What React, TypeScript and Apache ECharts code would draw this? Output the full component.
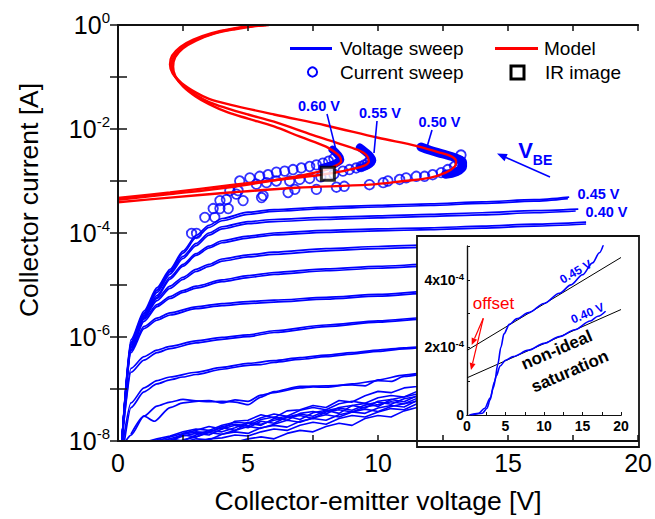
import React, { useEffect, useRef } from 'react';
import * as echarts from 'echarts';

const FONT = 'Arial, "Liberation Sans", Helvetica, sans-serif';
const BLUE = '#0000ff';
const RED = '#ff0000';

// ---------- main plot: voltage sweeps (pairs of forward / reverse traces) ----------
const VS_045_A = [[0.15,1e-8],[0.5,8.9e-7],[1,3.16e-6],[1.5,8.9e-6],[2,2.0e-5],[2.5,4.5e-5],[3,8.9e-5],[3.5,1.41e-4],[4,1.9e-4],[5,2.51e-4],[6,2.82e-4],[8,3.16e-4],[10,3.4e-4],[12,3.63e-4],[14,3.98e-4],[16,4.37e-4],[17.35,4.9e-4]];
const VS_045_B = [[0.15,1e-8],[0.5,8.0e-7],[1,2.9e-6],[1.5,8.1e-6],[2,1.85e-5],[2.5,4.1e-5],[3,8.1e-5],[3.5,1.28e-4],[4,1.72e-4],[5,2.29e-4],[6,2.6e-4],[8,2.95e-4],[10,3.16e-4],[12,3.38e-4],[14,3.7e-4],[16,4.1e-4],[17.3,4.6e-4]];
const VS_040_A = [[0.15,1e-8],[0.5,7.9e-7],[1,2.8e-6],[1.5,7.9e-6],[2,1.78e-5],[2.5,3.55e-5],[3,6.3e-5],[3.5,1.0e-4],[4,1.32e-4],[5,1.66e-4],[6,1.82e-4],[8,2.0e-4],[10,2.14e-4],[12,2.29e-4],[14,2.45e-4],[16,2.69e-4],[17.7,2.88e-4]];
const VS_040_B = [[0.15,1e-8],[0.5,7.2e-7],[1,2.55e-6],[1.5,7.2e-6],[2,1.62e-5],[2.5,3.23e-5],[3,5.7e-5],[3.5,9.1e-5],[4,1.2e-4],[5,1.51e-4],[6,1.66e-4],[8,1.82e-4],[10,1.95e-4],[12,2.08e-4],[14,2.23e-4],[16,2.45e-4],[17.6,2.65e-4]];
const VS_L3_A = [[0.15,1e-8],[0.5,7.1e-7],[1,2.5e-6],[1.5,6.3e-6],[2,1.41e-5],[2.5,2.5e-5],[3,4.0e-5],[3.5,5.6e-5],[4,7.1e-5],[5,8.7e-5],[6,1.0e-4],[8,1.12e-4],[10,1.2e-4],[12,1.26e-4],[14,1.35e-4],[16,1.48e-4],[18,1.62e-4]];
const VS_L3_B = [[0.15,1e-8],[0.5,6.5e-7],[1,2.3e-6],[1.5,5.8e-6],[2,1.3e-5],[2.5,2.3e-5],[3,3.7e-5],[3.5,5.15e-5],[4,6.5e-5],[5,8.0e-5],[6,9.2e-5],[8,1.03e-4],[10,1.1e-4],[12,1.16e-4],[14,1.24e-4],[16,1.36e-4],[18,1.49e-4]];
const VS_L4_A = [[0.15,1e-8],[0.5,7.0e-7],[1,2.6e-6],[1.5,5.5e-6],[2,9.5e-6],[2.5,1.41e-5],[3,2.0e-5],[3.5,2.5e-5],[4,3.16e-5],[5,3.8e-5],[6,4.27e-5],[8,5.0e-5],[10,5.5e-5],[12,5.9e-5],[14,6.3e-5],[16,6.76e-5],[18,7.24e-5]];
const VS_L4_B = [[0.15,1e-8],[0.5,6.3e-7],[1,2.35e-6],[1.5,5.0e-6],[2,8.6e-6],[2.5,1.28e-5],[3,1.82e-5],[3.5,2.28e-5],[4,2.88e-5],[5,3.46e-5],[6,3.89e-5],[8,4.55e-5],[10,5.0e-5],[12,5.37e-5],[14,5.73e-5],[16,6.15e-5],[18,6.6e-5]];
const VS_L5_A = [[0.15,1e-8],[0.5,6.2e-7],[1,2.2e-6],[1.5,4.2e-6],[2,6.0e-6],[2.5,7.8e-6],[3,9.5e-6],[4,1.26e-5],[5,1.51e-5],[6,1.74e-5],[8,2.04e-5],[10,2.29e-5],[12,2.51e-5],[14,2.69e-5],[16,2.88e-5],[18,3.09e-5]];
const VS_L5_B = [[0.15,1e-8],[0.5,5.7e-7],[1,2.0e-6],[1.5,3.85e-6],[2,5.5e-6],[2.5,7.2e-6],[3,8.7e-6],[4,1.16e-5],[5,1.39e-5],[6,1.6e-5],[8,1.88e-5],[10,2.1e-5],[12,2.31e-5],[14,2.47e-5],[16,2.65e-5],[18,2.84e-5]];
const VS_L6_A = [[0.15,1e-8],[0.5,5.5e-7],[1,1.6e-6],[1.5,2.3e-6],[2,2.9e-6],[3,3.8e-6],[4,4.4e-6],[5,4.8e-6],[6,5.1e-6],[8,5.8e-6],[10,6.6e-6],[12,7.6e-6],[14,8.1e-6],[16,8.7e-6],[18,9.3e-6]];
const VS_L6_B = [[0.15,1e-8],[0.5,5.0e-7],[1,1.45e-6],[1.5,2.1e-6],[2,2.65e-6],[3,3.5e-6],[4,4.0e-6],[5,4.4e-6],[6,4.7e-6],[8,5.35e-6],[10,6.1e-6],[12,7.0e-6],[14,7.5e-6],[16,8.0e-6],[18,8.6e-6]];
const VS_L7_A = [[0.15,1e-8],[0.5,2.5e-7],[1,4.2e-7],[1.5,5.6e-7],[2,6.6e-7],[3,8.4e-7],[4,9.8e-7],[5,1.1e-6],[6,1.32e-6],[8,1.7e-6],[10,2.05e-6],[12,2.4e-6],[14,2.7e-6],[16,2.95e-6],[18,3.16e-6]];
const VS_L7_B = [[0.15,1e-8],[0.5,2.1e-7],[1,3.6e-7],[1.5,5.0e-7],[2,6.0e-7],[3,7.7e-7],[4,9.0e-7],[5,1.02e-6],[6,1.22e-6],[8,1.58e-6],[10,1.93e-6],[12,2.25e-6],[14,2.55e-6],[16,2.8e-6],[18,3.0e-6]];
const VS_L8_A = [[0.2,1e-8],[0.5,5.4e-8],[1,1.05e-7],[1.5,1.45e-7],[2,1.7e-7],[3,2.1e-7],[4,2.6e-7],[5,3.1e-7],[6,3.5e-7],[7,4.0e-7],[8,4.5e-7],[9,5.0e-7],[10,5.6e-7],[11,6.2e-7],[12,6.6e-7],[14,7.6e-7],[16,8.5e-7],[18,9.5e-7]];
const VS_L8_B = [[0.25,1e-8],[0.5,4.4e-8],[1,8.8e-8],[1.5,1.25e-7],[2,1.5e-7],[2.5,1.7e-7],[3,1.9e-7],[4,2.4e-7],[5,2.85e-7],[5.5,2.95e-7],[6,3.25e-7],[7,3.7e-7],[8,4.2e-7],[9,4.7e-7],[10,5.3e-7],[11,5.9e-7],[12,6.4e-7],[14,7.3e-7],[16,8.2e-7],[18,9.1e-7]];
const VS_L9_A = [[0.3,1e-8],[0.5,1.3e-8],[1,3.0e-8],[1.5,4.7e-8],[2,5.6e-8],[2.5,6.3e-8],[3,5.9e-8],[3.5,5.7e-8],[4,5.8e-8],[4.5,5.6e-8],[5,5.0e-8],[5.5,7.0e-8],[6,8.9e-8],[7,1.12e-7],[8,1.15e-7],[9,1.2e-7],[9.5,1.15e-7],[10,1.5e-7],[11,1.85e-7],[12,2.1e-7],[14,2.4e-7],[16,2.7e-7],[18,3.0e-7]];
const VS_L9_B = [[0.5,1.35e-8],[1,3.0e-8],[1.4,2.4e-8],[2,4.4e-8],[2.5,5.4e-8],[3,5.8e-8],[3.5,6.0e-8],[4,5.4e-8],[4.5,6.2e-8],[5,5.8e-8],[5.5,7.6e-8],[6,8.5e-8],[7,1.05e-7],[7.5,1.1e-7],[8,1.08e-7],[9,1.25e-7],[10,1.45e-7],[10.5,1.4e-7],[11,1.75e-7],[12,2.0e-7],[14,2.3e-7],[16,2.6e-7],[18,2.9e-7]];

// noise-floor traces (low base-emitter voltages)
const NOISE_X = [1,1.5,2,2.5,3,3.5,4,4.5,5,5.5,6,6.5,7,7.5,8,8.5,9,9.5,10,10.5,11,11.5,12];
const NOISE_1 = [0.8e-8,1.0e-8,1.2e-8,1.4e-8,1.6e-8,1.9e-8,1.7e-8,2.4e-8,2.5e-8,3.2e-8,2.8e-8,3.8e-8,4.0e-8,4.8e-8,4.4e-8,6.0e-8,5.6e-8,7.4e-8,9.0e-8,8.5e-8,1.05e-7,1.12e-7,1.2e-7];
const NOISE_2 = [0.9e-8,0.95e-8,1.1e-8,1.3e-8,1.2e-8,1.5e-8,1.8e-8,1.6e-8,2.2e-8,2.0e-8,2.7e-8,3.0e-8,2.6e-8,3.5e-8,3.9e-8,3.4e-8,4.8e-8,5.3e-8,4.6e-8,6.3e-8,7.0e-8,8.0e-8,8.6e-8];
const NOISE_3 = [0.7e-8,0.85e-8,1.0e-8,1.25e-8,1.4e-8,1.3e-8,1.7e-8,2.0e-8,1.8e-8,2.4e-8,2.2e-8,2.9e-8,3.3e-8,3.0e-8,3.8e-8,4.3e-8,3.9e-8,4.9e-8,5.6e-8,5.1e-8,6.5e-8,7.2e-8,7.8e-8];
const NOISE_4 = [0.6e-8,0.8e-8,0.9e-8,1.05e-8,1.2e-8,1.45e-8,1.35e-8,1.6e-8,1.9e-8,1.75e-8,2.1e-8,2.5e-8,2.3e-8,2.8e-8,3.2e-8,2.9e-8,3.6e-8,4.1e-8,3.7e-8,4.6e-8,5.2e-8,5.8e-8,6.4e-8];
const NOISE_5 = [0.85e-8,1.05e-8,1.0e-8,1.35e-8,1.5e-8,1.45e-8,1.9e-8,2.1e-8,1.95e-8,2.6e-8,2.9e-8,2.5e-8,3.4e-8,3.7e-8,3.3e-8,4.4e-8,4.8e-8,4.3e-8,5.8e-8,6.3e-8,5.7e-8,7.4e-8,8.0e-8];
const NOISE_6 = [0.75e-8,0.9e-8,1.1e-8,1.0e-8,1.3e-8,1.6e-8,1.5e-8,1.8e-8,2.3e-8,2.1e-8,2.5e-8,2.8e-8,3.1e-8,2.7e-8,3.6e-8,4.0e-8,3.6e-8,4.5e-8,5.0e-8,5.7e-8,5.2e-8,6.6e-8,7.2e-8];
const NOISE_7 = [0.5e-8,0.6e-8,0.7e-8,0.75e-8,0.85e-8,0.9e-8,1.0e-8,0.95e-8,1.1e-8,1.2e-8,1.1e-8,1.4e-8,1.6e-8,1.5e-8,1.9e-8,2.2e-8,2.0e-8,2.7e-8,3.1e-8,2.9e-8,3.8e-8,4.4e-8,5.0e-8];
const NOISE_8 = [0.55e-8,0.65e-8,0.75e-8,0.9e-8,0.95e-8,1.1e-8,1.15e-8,1.3e-8,1.25e-8,1.5e-8,1.7e-8,1.6e-8,2.0e-8,2.3e-8,2.1e-8,2.7e-8,3.1e-8,2.9e-8,3.6e-8,4.2e-8,4.0e-8,5.2e-8,5.8e-8];
const NOISE_9 = [0.6e-8,0.7e-8,0.85e-8,0.95e-8,1.1e-8,1.05e-8,1.35e-8,1.5e-8,1.4e-8,1.8e-8,2.0e-8,1.85e-8,2.4e-8,2.7e-8,2.5e-8,3.2e-8,3.6e-8,3.4e-8,4.3e-8,4.8e-8,4.5e-8,6.0e-8,6.6e-8];
const NOISE_10 = [0.95e-8,1.1e-8,1.25e-8,1.5e-8,1.7e-8,1.6e-8,2.0e-8,2.3e-8,2.2e-8,2.8e-8,3.3e-8,3.0e-8,3.9e-8,4.4e-8,4.0e-8,5.2e-8,5.8e-8,5.3e-8,6.8e-8,7.5e-8,7.0e-8,9.0e-8,9.8e-8];
const NOISE_ROWS = [NOISE_1, NOISE_2, NOISE_3, NOISE_4, NOISE_5, NOISE_6, NOISE_7, NOISE_8, NOISE_9, NOISE_10];

// voltage-sweep traces at the snapback "noses"
const NOSE_060 = [[7.85,1.78e-3],[8.2,2.0e-3],[8.45,2.3e-3],[8.55,2.6e-3],[8.45,3.2e-3],[8.25,4.0e-3]];
const NOSE_055 = [[9.3,1.8e-3],[9.6,2.0e-3],[9.78,2.5e-3],[9.7,3.0e-3],[9.5,3.7e-3],[9.3,4.4e-3]];
const NOSE_050 = [[12.6,1.35e-3],[13.0,1.5e-3],[13.25,1.9e-3],[13.25,2.3e-3],[13.0,2.75e-3],[12.5,3.3e-3],[12.0,3.9e-3],[11.65,4.5e-3]];

// current sweeps (open circles)
const CS_060 = [[2.83,9.8e-5],[3.34,2.0e-4],[3.66,2.95e-4],[3.92,4.2e-4],[4.3,6.5e-4],[4.68,1.0e-3],[5.07,1.15e-3],[5.45,1.23e-3],[5.77,1.32e-3],[6.09,1.48e-3],[6.41,1.55e-3],[6.73,1.66e-3],[7.05,1.78e-3],[7.37,1.9e-3],[7.63,2.04e-3],[7.88,2.2e-3],[8.1,2.4e-3],[8.3,2.7e-3]];
const CS_055 = [[3.02,9.8e-5],[3.72,2.0e-4],[3.92,2.95e-4],[4.17,4.4e-4],[4.62,6.5e-4],[5.32,8.7e-4],[5.71,9.3e-4],[6.09,1.0e-3],[6.6,1.0e-3],[6.99,1.07e-3],[7.37,1.12e-3],[7.8,1.2e-3],[8.3,1.35e-3],[8.65,1.55e-3],[8.9,1.66e-3],[9.16,1.78e-3],[9.35,1.9e-3],[9.48,2.04e-3],[9.61,2.24e-3],[9.7,2.5e-3]];
const CS_050 = [[4.24,2.95e-4],[4.55,5.6e-4],[4.81,4.2e-4],[5.52,4.8e-4],[5.58,5.25e-4],[6.54,6.0e-4],[6.8,6.9e-4],[7.63,6.9e-4],[8.4,7.6e-4],[8.7,7.9e-4],[9.67,8.5e-4],[10.2,9.3e-4],[10.38,1.0e-3],[10.83,1.07e-3],[11.08,1.15e-3],[11.47,1.23e-3],[11.79,1.23e-3],[12.1,1.32e-3],[12.43,1.45e-3],[12.68,1.66e-3],[12.94,1.9e-3],[13.13,2.4e-3],[13.19,3.16e-3]];

// model (red)
const MODEL_060 = [[0,4.37e-4],[2,5.6e-4],[4.3,7.6e-4],[6.2,1.07e-3],[7.3,1.35e-3],[8.0,1.66e-3],[8.4,2.0e-3],[8.58,2.4e-3],[8.52,3.0e-3],[8.3,3.7e-3],[8.0,4.57e-3],[7,7.1e-3],[6,1.12e-2],[5,1.58e-2],[4.2,2.1e-2],[3.5,3.0e-2],[3.0,4.17e-2],[2.5,6.6e-2],[2.2,0.105],[2.12,0.158],[2.2,0.24],[2.5,0.355],[3.0,0.5],[3.7,0.68],[4.5,0.83],[5.3,0.955],[5.8,1.0]];
const MODEL_055 = [[0,4.7e-4],[2,6.0e-4],[4.3,8.3e-4],[6.86,1.15e-3],[8.2,1.41e-3],[8.9,1.66e-3],[9.45,1.95e-3],[9.65,2.4e-3],[9.55,3.16e-3],[9.2,4.0e-3],[8.5,5.25e-3],[7.5,7.6e-3],[6,1.38e-2],[5,1.9e-2],[4.2,2.5e-2],[3.5,3.3e-2],[3.0,4.5e-2],[2.5,6.9e-2],[2.15,0.11],[2.06,0.166],[2.14,0.245],[2.45,0.363],[2.95,0.513],[3.65,0.684],[4.45,0.84],[5.25,0.96],[5.7,1.0]];
const MODEL_050 = [[0,3.9e-4],[2,4.8e-4],[4.3,6.0e-4],[6.86,7.4e-4],[9.67,8.5e-4],[11.0,1.0e-3],[11.98,1.15e-3],[12.6,1.45e-3],[12.95,1.9e-3],[13.0,2.4e-3],[12.8,3.0e-3],[12.3,3.6e-3],[11.5,4.7e-3],[10,6.8e-3],[8,1.17e-2],[6,1.9e-2],[4.3,2.95e-2],[3.5,3.8e-2],[3.0,5.0e-2],[2.45,7.6e-2],[2.1,0.117],[2.0,0.174],[2.08,0.257],[2.4,0.38],[2.9,0.525],[3.6,0.7],[4.4,0.85],[5.2,0.966],[5.6,1.0]];

const IR_IMAGE = [[8.07,1.38e-3]];

// ---------- inset (linear) ----------
const INSET_045 = [[0.3,0],[1.5,5e-6],[2.3,2e-5],[3.0,5e-5],[3.6,1.0e-4],[4.0,1.5e-4],[4.4,2.0e-4],[4.8,2.4e-4],[5.5,2.68e-4],[6.5,2.85e-4],[8,3.03e-4],[10,3.3e-4],[12,3.6e-4],[13.5,3.85e-4],[15,4.15e-4],[16.3,4.5e-4],[17.2,4.8e-4],[17.8,5.1e-4]];
const INSET_040 = [[0.6,0],[2.0,5e-6],[2.6,2e-5],[3.0,4.5e-5],[3.4,8e-5],[3.8,1.15e-4],[4.3,1.45e-4],[5,1.62e-4],[6,1.73e-4],[8,1.92e-4],[10,2.12e-4],[12,2.32e-4],[14,2.52e-4],[16,2.78e-4],[17,2.92e-4],[18,3.07e-4]];
const INSET_FIT_HI = [[0,1.91e-4],[20,4.66e-4]];
const INSET_FIT_LO = [[0,1.10e-4],[20,3.12e-4]];

const X_MAIN_TICKS = [0, 5, 10, 15, 20];
const INSET_Y_LABELS = ['0', '2x10', '4x10'];

const VS_PAIRS = [VS_045_A, VS_045_B, VS_040_A, VS_040_B, VS_L3_A, VS_L3_B, VS_L4_A, VS_L4_B, VS_L5_A, VS_L5_B, VS_L6_A, VS_L6_B, VS_L7_A, VS_L7_B, VS_L8_A, VS_L8_B, VS_L9_A, VS_L9_B];

function buildOption() {
  const series: any[] = [];
  VS_PAIRS.forEach((d) => {
    series.push({
      type: 'line', name: 'Voltage sweep', xAxisIndex: 0, yAxisIndex: 0, data: d,
      showSymbol: false, smooth: 0.25, smoothMonotone: 'x',
      lineStyle: { color: BLUE, width: 1.7 }, z: 2, silent: true,
    });
  });
  NOISE_ROWS.forEach((row) => {
    series.push({
      type: 'line', name: 'Voltage sweep', xAxisIndex: 0, yAxisIndex: 0,
      data: NOISE_X.map((x, i) => [x, row[i]]),
      showSymbol: false, lineStyle: { color: BLUE, width: 1.6 }, z: 2, silent: true,
    });
  });
  [CS_060, CS_055, CS_050].forEach((d) => {
    series.push({
      type: 'scatter', name: 'Current sweep', xAxisIndex: 0, yAxisIndex: 0, data: d,
      symbol: 'circle', symbolSize: 9.5,
      itemStyle: { color: 'rgba(255,255,255,0)', borderColor: BLUE, borderWidth: 1.8 }, z: 3, silent: true,
    });
  });
  [NOSE_060, NOSE_055, NOSE_050].forEach((d, i) => {
    series.push({
      type: 'line', name: 'Voltage sweep', xAxisIndex: 0, yAxisIndex: 0, data: d,
      showSymbol: false, smooth: 0.4,
      lineStyle: { color: BLUE, width: i === 2 ? 9 : 8, cap: 'round', join: 'round' }, z: 3, silent: true,
    });
  });
  [MODEL_060, MODEL_055, MODEL_050].forEach((d) => {
    series.push({
      type: 'line', name: 'Model', xAxisIndex: 0, yAxisIndex: 0, data: d,
      showSymbol: false, smooth: 0.35,
      lineStyle: { color: RED, width: 2.4 }, z: 4, silent: true,
    });
  });
  series.push({
    type: 'scatter', name: 'IR image', xAxisIndex: 0, yAxisIndex: 0, data: IR_IMAGE,
    symbol: 'rect', symbolSize: 13,
    itemStyle: { color: '#fff', borderColor: '#000', borderWidth: 3 }, z: 5, silent: true,
  });
  // inset
  series.push({
    type: 'line', xAxisIndex: 2, yAxisIndex: 2, data: INSET_FIT_HI, showSymbol: false,
    lineStyle: { color: '#000', width: 1 }, z: 15, silent: true,
  });
  series.push({
    type: 'line', xAxisIndex: 2, yAxisIndex: 2, data: INSET_FIT_LO, showSymbol: false,
    lineStyle: { color: '#000', width: 1 }, z: 15, silent: true,
  });
  [INSET_045, INSET_040].forEach((d) => {
    series.push({
      type: 'line', xAxisIndex: 2, yAxisIndex: 2, data: d, showSymbol: false,
      smooth: 0.3, smoothMonotone: 'x',
      lineStyle: { color: BLUE, width: 1.6 }, z: 16, silent: true,
    });
  });

  const axisLineMain = { show: true, lineStyle: { color: '#111', width: 2 } };
  const axisLineInset = { show: true, lineStyle: { color: '#111', width: 1.2 } };

  const txt = (text: string, x: number, y: number, font: string, fill: string, rotation = 0, align = 'center') => ({
    type: 'text', x, y, rotation, z: 40,
    style: { text, fill, font, align, verticalAlign: 'middle' },
  });
  const seg = (x1: number, y1: number, x2: number, y2: number, stroke: string, lineWidth: number) => ({
    type: 'line', z: 40, shape: { x1, y1, x2, y2 }, style: { stroke, lineWidth },
  });
  const tri = (pts: number[][], fill: string) => ({
    type: 'polygon', z: 40, shape: { points: pts }, style: { fill },
  });

  const graphic: any[] = [
    { type: 'rect', z: 10, shape: { x: 417, y: 236, width: 222, height: 211 }, style: { fill: '#fff', stroke: '#111', lineWidth: 1.8 } },
    // legend
    seg(290, 48.5, 332, 48.5, BLUE, 3),
    txt('Voltage sweep', 340, 48, `19px ${FONT}`, '#000', 0, 'left'),
    { type: 'circle', z: 40, shape: { cx: 312.5, cy: 72, r: 4.6 }, style: { fill: 'none', stroke: BLUE, lineWidth: 2 } },
    txt('Current sweep', 340, 72, `19px ${FONT}`, '#000', 0, 'left'),
    seg(495, 48.5, 538, 48.5, RED, 3),
    txt('Model', 544, 48, `19px ${FONT}`, '#000', 0, 'left'),
    { type: 'rect', z: 40, shape: { x: 511, y: 66, width: 13, height: 13 }, style: { fill: '#fff', stroke: '#000', lineWidth: 3 } },
    txt('IR image', 545, 72, `19px ${FONT}`, '#000', 0, 'left'),
    // V_BE labels
    txt('0.60 V', 319, 106, `bold 14.5px ${FONT}`, BLUE),
    seg(327, 114, 336, 150, BLUE, 1.6),
    txt('0.55 V', 380, 113, `bold 14.5px ${FONT}`, BLUE),
    seg(377, 121, 374, 153, BLUE, 1.6),
    txt('0.50 V', 439.5, 122, `bold 14.5px ${FONT}`, BLUE),
    seg(432, 130, 427, 147, BLUE, 1.6),
    txt('0.45 V', 598.5, 194, `bold 14.5px ${FONT}`, BLUE),
    txt('0.40 V', 606.5, 212, `bold 14.5px ${FONT}`, BLUE),
    // V_BE arrow
    seg(550, 177, 506, 157.6, BLUE, 1.6),
    tri([[497, 153.5], [507.7, 153.9], [504.5, 161.3]], BLUE),
    txt('V', 525.5, 150, `bold 22px ${FONT}`, BLUE),
    txt('BE', 542.5, 160, `bold 14px ${FONT}`, BLUE),
    // inset annotations
    txt('offset', 493.5, 303.5, `17px ${FONT}`, RED),
    seg(483.3, 318.3, 474.5, 338.6, RED, 1.2),
    tri([[471.7, 345], [477.2, 339.8], [471.7, 337.4]], RED),
    seg(483.3, 318.3, 472.6, 363.2, RED, 1.2),
    tri([[471, 370], [475.5, 363.9], [469.7, 362.5]], RED),
    txt('non-ideal', 556.7, 350, `bold 17px ${FONT}`, '#000', 0.405),
    txt('saturation', 569.8, 371.5, `bold 17px ${FONT}`, '#000', 0.408),
    txt('0.45 V', 575.8, 271.7, `bold 12px ${FONT}`, BLUE, 0.53),
    txt('0.40 V', 587.5, 313.3, `bold 12px ${FONT}`, BLUE, 0.4),
  ];

  return {
    animation: false,
    backgroundColor: '#fff',
    grid: [
      { left: 118, top: 25, width: 521, height: 422 },
      { left: 467, top: 246, width: 154, height: 169 },
    ],
    xAxis: [
      {
        gridIndex: 0, type: 'value', min: 0, max: 20, interval: 2.5, z: 20,
        axisLine: axisLineMain,
        axisTick: { show: true, inside: true, length: 6, lineStyle: { color: '#111', width: 1.5 } },
        axisLabel: {
          margin: 9, fontSize: 25, color: '#000', fontFamily: FONT,
          formatter: (v: number) => (X_MAIN_TICKS.includes(v) ? String(v) : ''),
        },
        splitLine: { show: false },
        name: 'Collector-emitter voltage [V]', nameLocation: 'middle', nameGap: 46,
        nameTextStyle: { fontSize: 26.5, color: '#000', fontFamily: FONT },
      },
      {
        gridIndex: 0, type: 'value', position: 'top', min: 0, max: 20, interval: 2.5, z: 20,
        axisLine: axisLineMain,
        axisTick: { show: true, inside: true, length: 6, lineStyle: { color: '#111', width: 1.5 } },
        axisLabel: { show: false }, splitLine: { show: false },
      },
      {
        gridIndex: 1, type: 'value', min: 0, max: 20, interval: 2.5, z: 12,
        axisLine: axisLineInset,
        axisTick: { show: true, inside: true, length: 3, lineStyle: { color: '#111', width: 1 } },
        axisLabel: {
          margin: 4, fontSize: 14, fontWeight: 'bold', color: '#000', fontFamily: FONT,
          formatter: (v: number) => (v % 5 === 0 ? String(v) : ''),
        },
        splitLine: { show: false },
      },
      {
        gridIndex: 1, type: 'value', position: 'top', min: 0, max: 20, interval: 2.5, z: 12,
        axisLine: axisLineInset, axisTick: { show: false },
        axisLabel: { show: false }, splitLine: { show: false },
      },
    ],
    yAxis: [
      {
        gridIndex: 0, type: 'log', logBase: 10, min: 1e-8, max: 1, splitNumber: 8, z: 20,
        axisLine: axisLineMain,
        axisTick: { show: true, inside: true, length: 9, lineStyle: { color: '#111', width: 1.5 } },
        minorTick: { show: false },
        axisLabel: {
          margin: 8, color: '#000', fontFamily: FONT,
          formatter: (v: number) => {
            const e = Math.round(Math.log10(v));
            return e % 2 === 0 ? `{b|10}{s|${e === 0 ? '0' : '-' + Math.abs(e)}}` : '';
          },
          rich: {
            b: { fontSize: 25, fontFamily: FONT, color: '#000', lineHeight: 30 },
            s: { fontSize: 15, fontFamily: FONT, color: '#000', verticalAlign: 'top', lineHeight: 18 },
          },
        },
        splitLine: { show: false },
        name: 'Collector current [A]', nameLocation: 'middle', nameGap: 76,
        nameTextStyle: { fontSize: 26.5, color: '#000', fontFamily: FONT, padding: [0, 0, 0, 66] },
      },
      {
        gridIndex: 0, type: 'log', logBase: 10, min: 1e-8, max: 1, splitNumber: 8, position: 'right', z: 20,
        axisLine: axisLineMain,
        axisTick: { show: true, inside: true, length: 8, lineStyle: { color: '#111', width: 1.5 } },
        minorTick: { show: false },
        axisLabel: { show: false }, splitLine: { show: false },
      },
      {
        gridIndex: 1, type: 'value', min: 0, max: 5e-4, interval: 1e-4, z: 12,
        axisLine: axisLineInset,
        axisTick: { show: true, inside: true, length: 3, lineStyle: { color: '#111', width: 1 } },
        axisLabel: {
          margin: 3, color: '#000', fontFamily: FONT,
          formatter: (v: number) => {
            const k = Math.round(v * 1e4);
            if (k === 0) return `{b|${INSET_Y_LABELS[0]}}`;
            if (k === 2) return `{b|${INSET_Y_LABELS[1]}}{s|-4}`;
            if (k === 4) return `{b|${INSET_Y_LABELS[2]}}{s|-4}`;
            return '';
          },
          rich: {
            b: { fontSize: 14, fontWeight: 'bold', fontFamily: FONT, color: '#000', lineHeight: 17 },
            s: { fontSize: 9.5, fontWeight: 'bold', fontFamily: FONT, color: '#000', verticalAlign: 'top', lineHeight: 11 },
          },
        },
        splitLine: { show: false },
      },
      {
        gridIndex: 1, type: 'value', min: 0, max: 5e-4, interval: 1e-4, position: 'right', z: 12,
        axisLine: axisLineInset, axisTick: { show: false },
        axisLabel: { show: false }, splitLine: { show: false },
      },
    ],
    series,
    graphic,
  };
}

export default function App() {
  const ref = useRef<HTMLDivElement>(null);
  useEffect(() => {
    document.body.style.margin = '0';
    const chart = echarts.init(ref.current!, null, { renderer: 'svg' });
    chart.setOption(buildOption() as any);
    return () => chart.dispose();
  }, []);
  return <div ref={ref} style={{ width: 655, height: 519 }} />;
}
